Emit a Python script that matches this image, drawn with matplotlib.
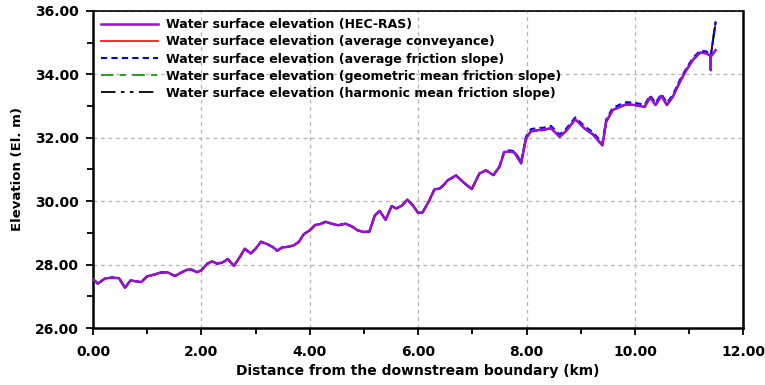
import matplotlib
matplotlib.use("Agg")
import matplotlib.pyplot as plt
from matplotlib.ticker import MultipleLocator, FormatStrFormatter

plt.rcParams["font.family"] = ["DejaVu Sans"]
plt.rcParams["font.weight"] = "bold"

# distance from downstream boundary (km)
distancia = [
    0.00, 0.09, 0.22, 0.35, 0.48, 0.59, 0.69, 0.80, 0.89, 1.00,
    1.12, 1.25, 1.37, 1.51, 1.63, 1.74, 1.82, 1.92, 2.00, 2.11,
    2.20, 2.29, 2.38, 2.49, 2.60, 2.71, 2.80, 2.91, 3.00, 3.10,
    3.22, 3.31, 3.40, 3.49, 3.60, 3.71, 3.80, 3.89, 4.00, 4.10,
    4.20, 4.29, 4.42, 4.53, 4.66, 4.79, 4.88, 4.99, 5.10, 5.20,
    5.29, 5.40, 5.51, 5.60, 5.70, 5.80, 5.90, 6.00, 6.08, 6.20,
    6.30, 6.40, 6.48, 6.54, 6.70, 6.85, 6.99, 7.13, 7.25, 7.39,
    7.50, 7.59, 7.70, 7.78, 7.90, 7.99, 8.08, 8.24, 8.30, 8.45,
    8.61, 8.73, 8.90, 9.07, 9.22, 9.40, 9.47, 9.59, 9.72, 9.84,
    9.99, 10.18, 10.28, 10.38, 10.49, 10.59, 10.70, 10.83, 10.95, 11.07,
    11.20, 11.31, 11.38,
]

# water surface elevation, common part of the profile (El. m)
elev_comun = [
    27.54, 27.40, 27.56, 27.59, 27.57, 27.27, 27.50, 27.47, 27.45, 27.63,
    27.68, 27.75, 27.76, 27.64, 27.75, 27.84, 27.84, 27.76, 27.82, 28.03,
    28.10, 28.03, 28.06, 28.17, 27.96, 28.24, 28.50, 28.35, 28.50, 28.72,
    28.64, 28.56, 28.44, 28.54, 28.56, 28.61, 28.72, 28.96, 29.08, 29.25,
    29.28, 29.35, 29.28, 29.24, 29.29, 29.19, 29.08, 29.03, 29.04, 29.55,
    29.69, 29.41, 29.84, 29.77, 29.86, 30.05, 29.87, 29.63, 29.64, 30.00,
    30.37, 30.40, 30.52, 30.65, 30.81, 30.57, 30.38, 30.87, 30.97, 30.82,
    31.08, 31.55, 31.56, 31.53, 31.19, 31.97, 32.20, 32.24, 32.24, 32.30,
    32.03, 32.21, 32.58, 32.29, 32.11, 31.76, 32.50, 32.87, 32.97, 33.05,
    33.03, 32.97, 33.27, 33.03, 33.32, 33.03, 33.29, 33.76, 34.13, 34.45,
    34.68, 34.66, 34.60,
]

# average friction slope sits a little higher upstream
elev_pendiente_media = [
    27.54, 27.40, 27.56, 27.59, 27.57, 27.27, 27.50, 27.47, 27.45, 27.63,
    27.68, 27.75, 27.76, 27.64, 27.75, 27.84, 27.84, 27.76, 27.82, 28.03,
    28.10, 28.03, 28.06, 28.17, 27.96, 28.24, 28.50, 28.35, 28.50, 28.72,
    28.64, 28.56, 28.44, 28.54, 28.56, 28.61, 28.72, 28.96, 29.08, 29.25,
    29.28, 29.35, 29.28, 29.24, 29.29, 29.19, 29.08, 29.03, 29.04, 29.55,
    29.69, 29.41, 29.84, 29.77, 29.86, 30.05, 29.87, 29.63, 29.64, 30.00,
    30.37, 30.40, 30.52, 30.65, 30.81, 30.57, 30.38, 30.87, 30.97, 30.82,
    31.10, 31.58, 31.60, 31.57, 31.24, 32.03, 32.27, 32.31, 32.31, 32.37,
    32.10, 32.28, 32.64, 32.36, 32.18, 31.83, 32.57, 32.94, 33.04, 33.12,
    33.10, 33.04, 33.33, 33.10, 33.38, 33.10, 33.35, 33.82, 34.19, 34.51,
    34.74, 34.72, 34.66,
]

# last stations (upstream end)
dist_final_hec = [11.40, 11.40, 11.40, 11.49]
elev_final_hec = [34.55, 34.13, 34.55, 34.76]
dist_final_calc = [11.40, 11.49]
elev_final_calc = [34.58, 35.65]

x_hec = distancia + dist_final_hec
y_hec = elev_comun + elev_final_hec
x_calc = distancia + dist_final_calc
y_conv = elev_comun + elev_final_calc
y_media = elev_pendiente_media + elev_final_calc
y_geom = elev_comun + elev_final_calc
y_harm = elev_comun + elev_final_calc

fig = plt.figure(figsize=(7.65, 3.85), dpi=100)
ax = fig.add_axes([0.1216, 0.148, 0.850, 0.824])

ax.plot(x_calc, y_conv, color="red", lw=1.2, zorder=3,
        label="Water surface elevation (average conveyance)")
ax.plot(x_calc, y_geom, color="#2ca02c", lw=1.5, ls=(0, (6, 3, 3, 3)), zorder=3,
        label="Water surface elevation (geometric mean friction slope)")
ax.plot(x_calc, y_harm, color="black", lw=1.3, ls=(0, (8, 3, 2, 3, 2, 3)), zorder=4,
        label="Water surface elevation (harmonic mean friction slope)")
ax.plot(x_calc, y_media, color="blue", lw=1.5, ls=(0, (3, 2)), zorder=4,
        label="Water surface elevation (average friction slope)")
ax.plot(x_hec, y_hec, color="#9a0fd0", lw=1.8, zorder=5,
        label="Water surface elevation (HEC-RAS)")

ax.set_xlim(0, 12)
ax.set_ylim(26, 36)
ax.xaxis.set_major_locator(MultipleLocator(2))
ax.xaxis.set_minor_locator(MultipleLocator(1))
ax.yaxis.set_major_locator(MultipleLocator(2))
ax.yaxis.set_minor_locator(MultipleLocator(1))
ax.xaxis.set_major_formatter(FormatStrFormatter("%.2f"))
ax.yaxis.set_major_formatter(FormatStrFormatter("%.2f"))
ax.tick_params(which="both", direction="out", width=1.3, labelsize=10)
ax.tick_params(which="major", length=5)
ax.tick_params(which="minor", length=4)
ax.tick_params(axis="x", pad=7)
ax.tick_params(axis="y", pad=5)
for lab in ax.get_xticklabels() + ax.get_yticklabels():
    lab.set_fontweight("bold")

ax.grid(True, which="major", color="#b4b4b4", ls=(0, (3, 3)), lw=0.9)
for lado in ["left", "bottom", "right"]:
    ax.spines[lado].set_linewidth(1.8)
ax.spines["top"].set_linewidth(1.2)

ax.set_xlabel("Distance from the downstream boundary (km)", fontsize=10,
              fontweight="bold", labelpad=4)
ax.set_ylabel("Elevation (El. m)", fontsize=9.5, fontweight="bold", labelpad=8)

handles, labels = ax.get_legend_handles_labels()
orden = [4, 0, 3, 1, 2]
ax.legend([handles[i] for i in orden], [labels[i] for i in orden],
          loc="upper left", frameon=False, handlelength=4.6,
          handletextpad=0.6, labelspacing=0.33, borderaxespad=0.1,
          borderpad=0.5, prop={"weight": "bold", "size": 9})

fig.savefig("out.png", dpi=100)
